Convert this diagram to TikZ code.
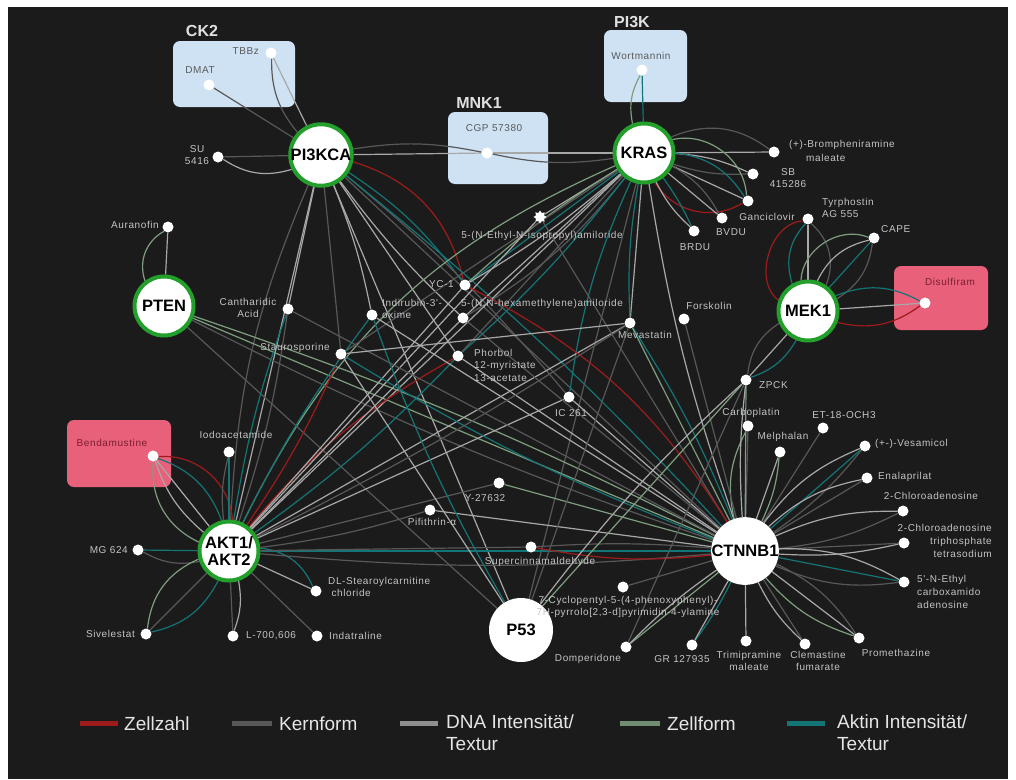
\documentclass[tikz,border=0pt]{standalone}
\usepackage{fontspec}
\setmainfont{Liberation Sans}
\newfontfamily\lblfont[LetterSpace=6]{Liberation Sans}
\usetikzlibrary{shapes.geometric}
\pgfdeclarelayer{bg}
\pgfdeclarelayer{edges}
\pgfsetlayers{bg,edges,main}
\definecolor{bgc}{HTML}{1C1B1B}
\definecolor{czz}{HTML}{9E1B1B}
\definecolor{ckf}{HTML}{585858}
\definecolor{cdna}{HTML}{A8A8A8}
\definecolor{czf}{HTML}{7E9E80}
\definecolor{cak}{HTML}{137575}
\definecolor{hubgreen}{HTML}{23A02B}
\definecolor{boxblue}{HTML}{CFE2F3}
\definecolor{boxpink}{HTML}{E8607A}
\definecolor{lblc}{HTML}{C4C4C4}
\definecolor{boxtxt}{HTML}{5A5A5A}
\definecolor{pinktxt}{HTML}{7A2030}
\begin{document}
\begin{tikzpicture}[x=1pt,y=-1pt,
  hub/.style={circle, fill=white, draw=hubgreen, line width=4pt, minimum size=59pt, inner sep=0pt,
    font=\fontsize{16.5}{17}\selectfont\bfseries, text=black, align=center},
  hubw/.style={circle, fill=white, minimum size=64pt, inner sep=0pt,
    font=\fontsize{16.5}{17}\selectfont\bfseries, text=black},
  cmp/.style={circle, fill=white, minimum size=11pt, inner sep=0pt},
  lbl/.style={text=lblc, font=\lblfont\fontsize{10}{12}\selectfont, inner sep=0pt},
  btxt/.style={text=boxtxt, font=\lblfont\fontsize{10}{12}\selectfont, inner sep=0pt},
  ptxt/.style={text=pinktxt, font=\lblfont\fontsize{10}{12}\selectfont, inner sep=0pt},
  gtitle/.style={text=white!88!black, font=\fontsize{16}{16}\selectfont\bfseries, inner sep=0pt},
  bluebox/.style={rectangle, rounded corners=7pt, fill=boxblue, inner sep=0pt},
  pinkbox/.style={rectangle, rounded corners=7pt, fill=boxpink, inner sep=0pt},
  eb/.style={line width=1.2pt},
  zz/.style={eb, draw=czz},
  kf/.style={eb, draw=ckf},
  dna/.style={eb, draw=cdna},
  zf/.style={eb, draw=czf},
  ak/.style={eb, draw=cak},
  legline/.style={line width=5pt},
  legtxt/.style={text=white!90!black, font=\fontsize{19}{22}\selectfont, inner sep=0pt, align=left}
]
\useasboundingbox (0,0) rectangle (1016,779);
\begin{pgfonlayer}{bg}
  \fill[white] (0,0) rectangle (1016,779);
  \fill[bgc] (8,7) rectangle (1008,779);
  \node[bluebox, minimum width=122pt, minimum height=66pt] (ck2box) at (234,74) {};
  \node[bluebox, minimum width=83pt, minimum height=72pt] (pi3kbox) at (645.5,66) {};
  \node[bluebox, minimum width=100pt, minimum height=72pt] (mnkbox) at (498,148) {};
  \node[pinkbox, minimum width=94pt, minimum height=64pt] (disbox) at (941,298) {};
  \node[pinkbox, minimum width=104pt, minimum height=67pt] (benbox) at (119,453.5) {};
\end{pgfonlayer}

% group titles
\node[gtitle] (t-ck2) at (202,31) {CK2};
\node[gtitle] (t-pi3k) at (632,22) {PI3K};
\node[gtitle] (t-mnk) at (479,103) {MNK1};

% hubs
\node[hub] (pi) at (321,155) {PI3KCA};
\node[hub] (kr) at (644,153) {KRAS};
\node[hub] (pt) at (164,306) {PTEN};
\node[hub] (mk) at (808,311) {MEK1};
\node[hub, font=\fontsize{16.5}{17.5}\selectfont\bfseries] (akt) at (229,551) {AKT1/\\AKT2};
\node[hubw] (ct) at (745,551) {CTNNB1};
\node[hubw] (p5) at (521,630) {P53};

% compounds
\node[cmp] (tbbz) at (271,53) {};
\node[cmp] (dmat) at (209,85) {};
\node[cmp] (wort) at (642,70) {};
\node[cmp] (cgp) at (487,153) {};
\node[cmp] (su) at (218,157) {};
\node[cmp] (auran) at (168,227) {};
\node[cmp] (bromph) at (774,152) {};
\node[cmp] (sb) at (753,174) {};
\node[cmp] (ganc) at (748,201) {};
\node[cmp] (bvdu) at (722,218) {};
\node[cmp] (brdu) at (694,231) {};
\node[cmp] (tyr) at (808,219) {};
\node[cmp] (cape) at (874,238) {};
\node[cmp] (disul) at (925,303) {};
\node[star, star points=8, star point ratio=1.5, fill=white, minimum size=13pt, inner sep=0pt] (ethyl) at (540,217) {};
\node[cmp] (yc1) at (465,285) {};
\node[cmp] (hexa) at (463,318) {};
\node[cmp] (phorb) at (458,356) {};
\node[cmp] (ic261) at (569,397) {};
\node[cmp] (meva) at (630,323) {};
\node[cmp] (forsk) at (684,319) {};
\node[cmp] (zpck) at (746,380) {};
\node[cmp] (canth) at (288,309) {};
\node[cmp] (indir) at (372,315) {};
\node[cmp] (staur) at (341,354) {};
\node[cmp] (iodo) at (229,452) {};
\node[cmp] (bend) at (153,456) {};
\node[cmp] (mg) at (138,550) {};
\node[cmp] (sivel) at (146,634) {};
\node[cmp] (l700) at (233,636) {};
\node[cmp] (indat) at (317,636) {};
\node[cmp] (dlst) at (316,591) {};
\node[cmp] (y276) at (499,483) {};
\node[cmp] (pifi) at (430,510) {};
\node[cmp] (super) at (531,547) {};
\node[cmp] (cyclo) at (623,587) {};
\node[cmp] (domp) at (626,647) {};
\node[cmp] (gr) at (692,645) {};
\node[cmp] (trimip) at (746,641) {};
\node[cmp] (clem) at (805,644) {};
\node[cmp] (prom) at (859,638) {};
\node[cmp] (n5) at (904,582) {};
\node[cmp] (cltp) at (904,543) {};
\node[cmp] (cl2) at (903,511) {};
\node[cmp] (enal) at (867,478) {};
\node[cmp] (vesam) at (865,446) {};
\node[cmp] (et18) at (823,428) {};
\node[cmp] (melph) at (780,452) {};
\node[cmp] (carbo) at (748,426) {};

% labels
\node[btxt, anchor=east] (l-tbbz) at (259,51) {TBBz};
\node[btxt] (l-dmat) at (200,70) {DMAT};
\node[btxt] (l-wort) at (641,56) {Wortmannin};
\node[btxt] (l-cgp) at (494,128) {CGP 57380};
\node[lbl, align=center] (l-su) at (197,155) {SU\\5416};
\node[lbl, anchor=east] (l-auran) at (159,225) {Auranofin};
\node[lbl, anchor=west] (l-bromph1) at (789,145) {(+)-Brompheniramine};
\node[lbl, anchor=west] (l-bromph2) at (806,158) {maleate};
\node[lbl, align=center] (l-sb) at (788,178) {SB\\415286};
\node[lbl] (l-ganc) at (767,217) {Ganciclovir};
\node[lbl] (l-bvdu) at (731,232) {BVDU};
\node[lbl] (l-brdu) at (695,247) {BRDU};
\node[lbl, anchor=west, align=left] (l-tyr) at (822,208) {Tyrphostin\\AG 555};
\node[lbl, anchor=west] (l-cape) at (881,229) {CAPE};
\node[ptxt] (l-disul) at (950,282) {Disulfiram};
\node[lbl] (l-ethyl) at (542,236) {5-(N-Ethyl-N-isopropyl)amiloride};
\node[lbl, anchor=east] (l-yc1) at (454,284) {YC-1};
\node[lbl] (l-hexa) at (542,304) {5-(N,N-hexamethylene)amiloride};
\node[lbl, anchor=north west, align=left, font=\lblfont\fontsize{10}{12.5}\selectfont] (l-phorb) at (474,349) {Phorbol\\12-myristate\\13-acetate};
\node[lbl] (l-ic261) at (571,413) {IC 261};
\node[lbl] (l-meva) at (645,335) {Mevastatin};
\node[lbl] (l-forsk) at (709,306) {Forskolin};
\node[lbl, anchor=west] (l-zpck) at (759,385) {ZPCK};
\node[lbl, align=center] (l-canth) at (248,308) {Cantharidic\\Acid};
\node[lbl, anchor=west, align=left] (l-indir) at (382,309) {Indirubin-3'-\\oxime};
\node[lbl, anchor=east] (l-staur) at (330,348) {Staurosporine};
\node[lbl] (l-iodo) at (236,435) {Iodoacetamide};
\node[ptxt] (l-bend) at (112,443) {Bendamustine};
\node[lbl, anchor=east] (l-mg) at (128,550) {MG 624};
\node[lbl, anchor=east] (l-sivel) at (135,634) {Sivelestat};
\node[lbl, anchor=west] (l-l700) at (246,636) {L-700,606};
\node[lbl, anchor=west] (l-indat) at (329,636) {Indatraline};
\node[lbl, anchor=west, align=left] (l-dlst) at (328,587) {DL-Stearoylcarnitine\\\ chloride};
\node[lbl] (l-y276) at (485,498) {Y-27632};
\node[lbl] (l-pifi) at (432,522) {Pifithrin-α};
\node[lbl] (l-super) at (540,562) {Supercinnamaldehyde};
\node[lbl, align=center] (l-cyclo) at (628,607) {7-Cyclopentyl-5-(4-phenoxyphenyl)-\\7H-pyrrolo[2,3-d]pyrimidin-4-ylamine};
\node[lbl] (l-domp) at (588,659) {Domperidone};
\node[lbl] (l-gr) at (682,659) {GR 127935};
\node[lbl, align=center] (l-trimip) at (749,661) {Trimipramine\\maleate};
\node[lbl, align=center] (l-clem) at (818,661) {Clemastine\\fumarate};
\node[lbl] (l-prom) at (896,653) {Promethazine};
\node[lbl, anchor=west, align=left, font=\lblfont\fontsize{10}{13}\selectfont] (l-n5) at (917,592) {5'-N-Ethyl\\carboxamido\\adenosine};
\node[lbl, align=right, anchor=east, font=\lblfont\fontsize{10}{13}\selectfont] (l-cltp) at (992,541) {2-Chloroadenosine\\triphosphate\\tetrasodium};
\node[lbl] (l-cl2) at (931,496) {2-Chloroadenosine};
\node[lbl, anchor=west] (l-enal) at (878,477) {Enalaprilat};
\node[lbl, anchor=west] (l-vesam) at (875,444) {(+-)-Vesamicol};
\node[lbl] (l-et18) at (844,415) {ET-18-OCH3};
\node[lbl] (l-melph) at (783,437) {Melphalan};
\node[lbl] (l-carbo) at (751,413) {Carboplatin};

% edges
\begin{pgfonlayer}{edges}
\foreach \s/\a/\b/\k in {
 dna/pi/tbbz/0, kf/pi/tbbz/20, kf/pi/dmat/0, kf/pi/su/0, dna/pi/su/25,
 dna/pi/cgp/0, dna/cgp/kr/0, kf/pi/cgp/10, kf/cgp/kr/-10,
 zz/pi/yc1/30, ak/pi/yc1/10, dna/pi/canth/0, kf/pi/staur/0, dna/pi/indir/5,
 dna/pi/akt/0, kf/pi/akt/-10, dna/pi/p5/0, kf/pi/ic261/5, dna/pi/phorb/0,
 kf/pi/ct/0, dna/pi/hexa/-5, ak/pi/ct/4,
 ak/kr/wort/0, zf/kr/wort/20, dna/kr/bromph/0, kf/kr/bromph/30,
 dna/kr/sb/10, kf/kr/sb/-10, zz/kr/ganc/-45, zf/kr/ganc/50, ak/kr/ganc/25,
 dna/kr/ganc/0, dna/kr/bvdu/0, kf/kr/bvdu/15, ak/kr/brdu/5, dna/kr/brdu/-10,
 dna/kr/ethyl/0, zf/kr/akt/-20, ak/kr/yc1/0, dna/kr/yc1/5, zf/kr/yc1/-5,
 dna/kr/hexa/0, kf/kr/hexa/10, dna/kr/meva/0, ak/kr/ic261/-8, ak/kr/phorb/5,
 kf/kr/phorb/0, dna/kr/akt/0, kf/kr/p5/0, dna/kr/ct/-5, kf/kr/staur/0, ak/kr/meva/-6,
 zz/mk/tyr/70, ak/mk/tyr/30, dna/mk/tyr/0, kf/mk/tyr/-35,
 ak/mk/cape/0, zf/mk/cape/55, dna/mk/cape/25, kf/mk/cape/-25,
 ak/mk/disul/25, dna/mk/disul/0, zz/mk/disul/-25,
 ak/mk/zpck/20, dna/mk/zpck/0, kf/mk/zpck/-25,
 zf/auran/pt/-40, dna/auran/pt/0, zf/pt/ct/0, zf/pt/ct/4, kf/pt/ct/-4, kf/pt/p5/0,
 zz/bend/akt/45, ak/bend/akt/25, dna/bend/akt/0, dna/bend/akt/-15, zf/bend/akt/-35,
 ak/akt/iodo/0, kf/akt/iodo/10, ak/akt/mg/0, kf/mg/akt/-20,
 zf/sivel/akt/30, kf/sivel/akt/0, ak/sivel/akt/-25,
 kf/akt/l700/0, dna/akt/l700/15, kf/akt/indat/0, ak/akt/dlst/30, dna/akt/dlst/0,
 ak/akt/ct/0, kf/akt/ct/-5, kf/akt/super/0, zz/akt/staur/-5, zz/akt/phorb/10,
 ak/phorb/akt/5, ak/canth/akt/-5, kf/canth/akt/5, dna/akt/yc1/0, dna/akt/hexa/0,
 dna/akt/ic261/0, dna/akt/meva/0, kf/akt/y276/0, kf/akt/pifi/-5, ak/akt/indir/5,
 dna/akt/ethyl/0,
 zf/carbo/ct/-20, kf/carbo/ct/0, dna/melph/ct/0, zf/melph/ct/10, kf/et18/ct/0,
 ak/ct/vesam/0, dna/ct/vesam/15, kf/ct/vesam/-8, dna/ct/enal/15, kf/ct/enal/0,
 dna/ct/cl2/12, kf/ct/cl2/-10, dna/ct/cltp/-8, kf/ct/cltp/0,
 ak/ct/n5/0, dna/ct/n5/15, kf/ct/n5/-15,
 zf/ct/prom/-15, dna/ct/prom/0, kf/ct/prom/15, kf/ct/clem/0, dna/ct/clem/-10,
 dna/ct/trimip/0, ak/ct/gr/5, dna/ct/gr/0, zf/ct/domp/0, dna/ct/domp/-5,
 kf/ct/cyclo/0, zf/ct/zpck/0, dna/ct/zpck/5, zz/super/ct/-8, kf/super/ct/4,
 ak/meva/ct/5, zf/meva/ct/0, kf/forsk/ct/0, dna/phorb/ct/0, ak/staur/ct/-5,
 kf/hexa/ct/0, kf/ethyl/ct/0, dna/ic261/ct/0, zf/y276/ct/0, dna/pifi/ct/0,
 dna/indir/ct/0, kf/canth/ct/0, zz/yc1/ct/15,
 zf/p5/zpck/0, dna/p5/zpck/5, ak/indir/p5/-5, dna/staur/p5/0, kf/p5/meva/0,
 kf/zpck/domp/0, dna/meva/staur/0, kf/meva/akt/3}
 { \draw[\s] (\a) to[bend left=\k] (\b); }
\end{pgfonlayer}

% legend
\coordinate (g1a) at (80,723);  \coordinate (g1b) at (118,723);
\coordinate (g2a) at (232,723); \coordinate (g2b) at (272,723);
\coordinate (g3a) at (400,723); \coordinate (g3b) at (438,723);
\coordinate (g4a) at (620,723); \coordinate (g4b) at (660,723);
\coordinate (g5a) at (787,723); \coordinate (g5b) at (825,723);
\draw[legline, draw=czz] (g1a) -- (g1b);
\draw[legline, draw=ckf] (g2a) -- (g2b);
\draw[legline, draw=cdna!85!black] (g3a) -- (g3b);
\draw[legline, draw=czf!90!black] (g4a) -- (g4b);
\draw[legline, draw=cak] (g5a) -- (g5b);
\node[legtxt, anchor=west] (lg1) at (124,724) {Zellzahl};
\node[legtxt, anchor=west] (lg2) at (279,724) {Kernform};
\node[legtxt, anchor=north west] (lg3) at (446,715) {DNA Intensität/\\Textur};
\node[legtxt, anchor=west] (lg4) at (667,724) {Zellform};
\node[legtxt, anchor=north west] (lg5) at (837,715) {Aktin Intensität/\\Textur};
\end{tikzpicture}
\end{document}
